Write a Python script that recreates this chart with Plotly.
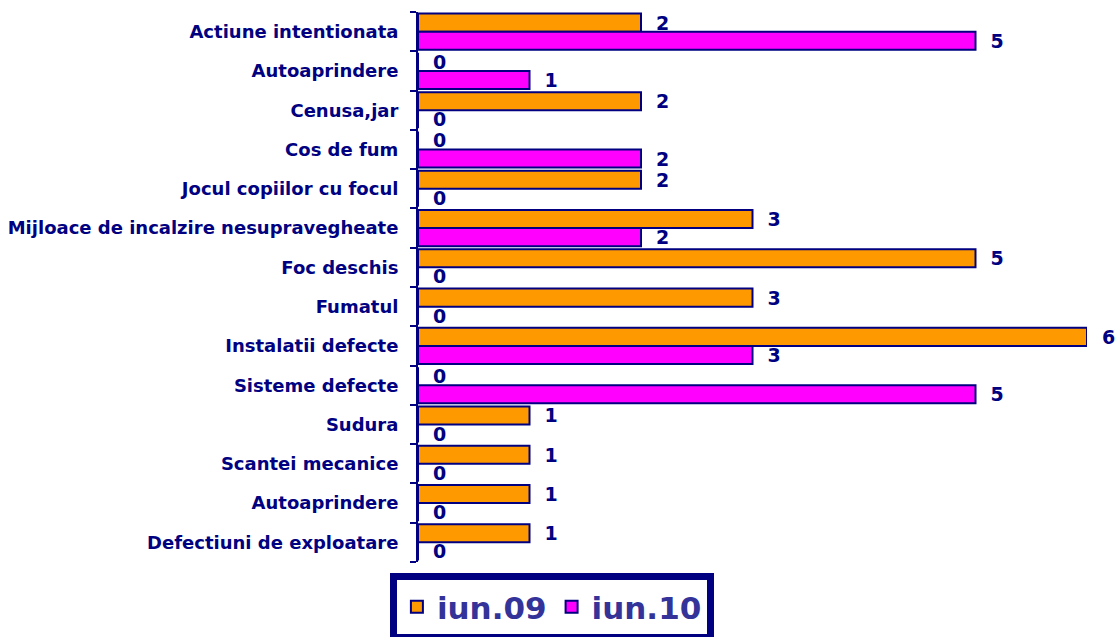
import plotly.graph_objects as go

categories = ["Actiune intentionata", "Autoaprindere", "Cenusa,jar", "Cos de fum",
              "Jocul copiilor cu focul", "Mijloace de incalzire nesupravegheate",
              "Foc deschis", "Fumatul", "Instalatii defecte", "Sisteme defecte",
              "Sudura", "Scantei mecanice", "Autoaprindere", "Defectiuni de exploatare"]
iun09 = [2, 0, 2, 0, 2, 3, 5, 3, 6, 0, 1, 1, 1, 1]
iun10 = [5, 1, 0, 2, 0, 2, 0, 0, 3, 5, 0, 0, 0, 0]

navy = "#000080"
pos = list(range(len(categories)))

fig = go.Figure()
for name, vals, col in [("iun.09", iun09, "#FF9900"), ("iun.10", iun10, "#FF00FF")]:
    fig.add_trace(go.Bar(y=pos, x=vals, orientation="h", name="<b>" + name + "</b>",
                         marker=dict(color=col, line=dict(color=navy, width=2)),
                         texttemplate="\u00a0\u00a0<b>%{x}</b>", textposition="outside",
                         cliponaxis=False, constraintext="none",
                         textfont=dict(family="DejaVu Sans", size=19, color=navy)))

fig.update_layout(
    width=1115, height=637,
    margin=dict(l=418, r=28, t=12, b=75, autoexpand=False),
    paper_bgcolor="white", plot_bgcolor="white",
    barmode="group", bargap=0.08, bargroupgap=0,
    font=dict(family="DejaVu Sans", color=navy),
    xaxis=dict(range=[0, 6], visible=False, automargin=False),
    yaxis=dict(range=[13.5, -0.5], tickvals=pos,
               ticktext=["<b>" + c + "</b>" for c in categories],
               ticks="", showline=True, linecolor=navy, linewidth=2, automargin=False,
               showgrid=False, zeroline=False, ticklabelstandoff=14,
               tickfont=dict(family="DejaVu Sans", size=18, color=navy),
               minor=dict(tickmode="array", tickvals=[i - 0.5 for i in range(15)],
                          ticks="outside", ticklen=6, tickwidth=2, tickcolor=navy,
                          showgrid=False)),
    legend=dict(orientation="h", x=-0.042, y=-0.02, xanchor="left", yanchor="top",
                bordercolor=navy, borderwidth=7, bgcolor="white",
                font=dict(family="DejaVu Sans", size=31, color="#333399"),
                itemwidth=30),
)

# drop the default 8px body margin so the figure fills the window
fig.write_html("out.html", config={"displayModeBar": False},
               post_script="document.body.style.margin='0px';")
